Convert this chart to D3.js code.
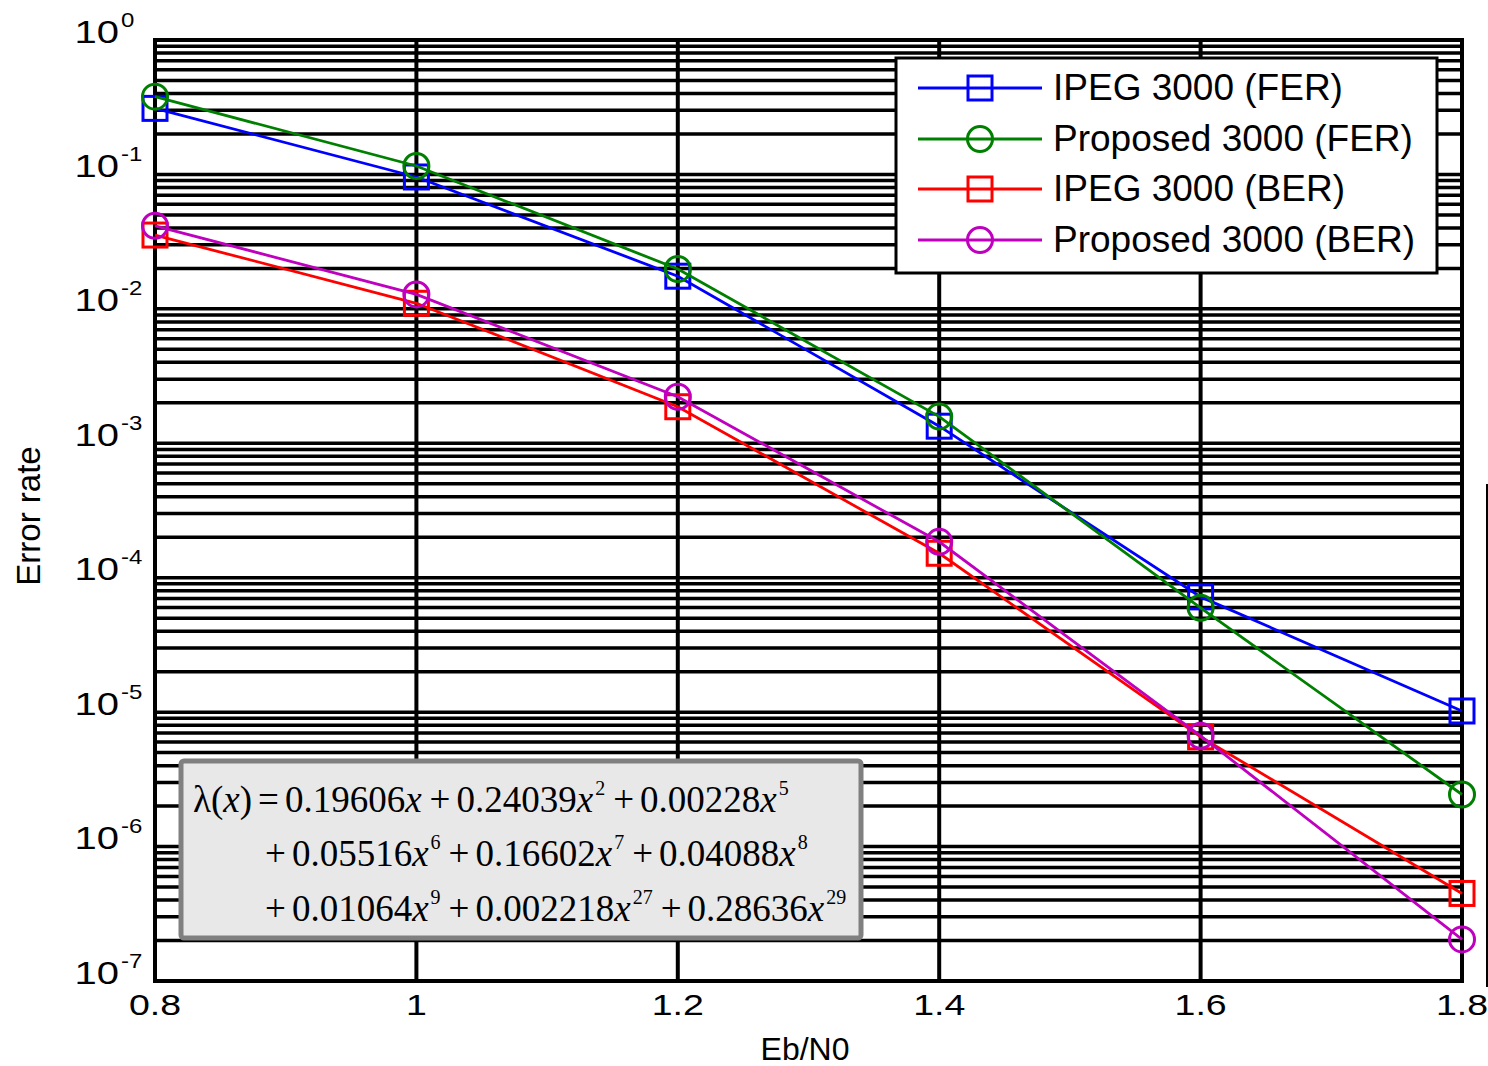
<!DOCTYPE html>
<html>
<head>
<meta charset="utf-8">
<script src="https://cdn.jsdelivr.net/npm/d3@7"></script>
<style>
  body { margin: 0; background: #fff; }
  svg { display: block; }
</style>
</head>
<body>
<div id="chart"></div>
<script>
// data
const ebn0 = [0.8, 1.0, 1.2, 1.4, 1.6, 1.8];
const ipegFer = [0.310, 0.0957, 0.0175, 1.34e-3, 7.2e-5, 1.02e-5];
const proposedFer = [0.379, 0.1155, 0.0198, 1.58e-3, 5.97e-5, 2.44e-6];
const ipegBer = [0.0354, 0.0110, 1.87e-3, 1.52e-4, 6.55e-6, 4.48e-7];
const proposedBer = [0.0415, 0.0128, 2.22e-3, 1.85e-4, 6.67e-6, 2.04e-7];
const seriesNames = ["IPEG 3000 (FER)", "Proposed 3000 (FER)", "IPEG 3000 (BER)", "Proposed 3000 (BER)"];
const seriesColors = ["#0000ff", "#008000", "#ff0000", "#bf00bf"];
const seriesMarkers = ["square", "circle", "square", "circle"];
const xTicks = [0.8, 1.0, 1.2, 1.4, 1.6, 1.8];
const xTickLabels = ["0.8", "1", "1.2", "1.4", "1.6", "1.8"];
const yTickExps = [0, -1, -2, -3, -4, -5, -6, -7];
const eqLine1 = [["0.19606", ""], ["0.24039", "2"], ["0.00228", "5"]];
const eqLine2 = [["0.05516", "6"], ["0.16602", "7"], ["0.04088", "8"]];
const eqLine3 = [["0.01064", "9"], ["0.002218", "27"], ["0.28636", "29"]];

const W = 1488, H = 1066;
const plotLeft = 155, plotRight = 1462, plotTop = 40, plotBottom = 981;

const svg = d3.select("#chart").append("svg")
    .attr("width", W)
    .attr("height", H);

const x = d3.scaleLinear().domain([0.8, 1.8]).range([plotLeft, plotRight]);
const y = d3.scaleLog().domain([1e-7, 1]).range([plotBottom, plotTop]);

// grid: every minor log step, black and heavy like the original
const gridY = [];
for (let e = -7; e < 0; e++) {
    for (let k = 1; k <= 9; k++) gridY.push(k * Math.pow(10, e));
}
svg.append("g").selectAll("line")
    .data(gridY)
    .enter().append("line")
    .attr("x1", plotLeft).attr("x2", plotRight)
    .attr("y1", d => y(d)).attr("y2", d => y(d))
    .attr("stroke", "#000")
    .attr("stroke-width", 3.5);

svg.append("g").selectAll("line")
    .data(xTicks.slice(1, -1))
    .enter().append("line")
    .attr("x1", d => x(d)).attr("x2", d => x(d))
    .attr("y1", plotTop).attr("y2", plotBottom)
    .attr("stroke", "#000")
    .attr("stroke-width", 4);

svg.append("rect")
    .attr("x", plotLeft).attr("y", plotTop)
    .attr("width", plotRight - plotLeft).attr("height", plotBottom - plotTop)
    .attr("fill", "none")
    .attr("stroke", "#000")
    .attr("stroke-width", 4);

// stray line at the right edge of the original picture
svg.append("line")
    .attr("x1", 1487).attr("x2", 1487)
    .attr("y1", 484).attr("y2", 987)
    .attr("stroke", "#000").attr("stroke-width", 2);

// tick labels (glyphs look horizontally stretched in the original)
const xLab = svg.append("g");
xTicks.forEach((t, i) => {
    xLab.append("text")
        .attr("transform", "translate(" + x(t) + ",1015) scale(1.25,1)")
        .attr("text-anchor", "middle")
        .attr("font-family", "Liberation Sans, Arial, sans-serif")
        .attr("font-size", 30)
        .text(xTickLabels[i]);
});

const yLab = svg.append("g");
yTickExps.forEach(e => {
    const yy = y(Math.pow(10, e)) + 2.5;
    yLab.append("text")
        .attr("transform", "translate(119," + yy + ") scale(1.25,1)")
        .attr("text-anchor", "end")
        .attr("font-family", "Liberation Sans, Arial, sans-serif")
        .attr("font-size", 32)
        .text("10");
    yLab.append("text")
        .attr("transform", "translate(121," + (yy - 16) + ") scale(1.2,1)")
        .attr("text-anchor", "start")
        .attr("font-family", "Liberation Sans, Arial, sans-serif")
        .attr("font-size", 20)
        .text(e === 0 ? "0" : "-" + Math.abs(e));
});

svg.append("text")
    .attr("x", 805).attr("y", 1060)
    .attr("text-anchor", "middle")
    .attr("font-family", "Liberation Sans, Arial, sans-serif")
    .attr("font-size", 32)
    .text("Eb/N0");

svg.append("text")
    .attr("transform", "translate(40,516) rotate(-90)")
    .attr("text-anchor", "middle")
    .attr("font-family", "Liberation Sans, Arial, sans-serif")
    .attr("font-size", 33)
    .text("Error rate");

// series
const allSeries = [ipegFer, proposedFer, ipegBer, proposedBer];
const line = d3.line()
    .x((d, i) => x(ebn0[i]))
    .y(d => y(d));

function drawMarker(g, type, cx, cy, color) {
    if (type === "square") {
        g.append("rect")
            .attr("x", cx - 12).attr("y", cy - 12)
            .attr("width", 24).attr("height", 24)
            .attr("fill", "none")
            .attr("stroke", color).attr("stroke-width", 3);
    } else {
        g.append("circle")
            .attr("cx", cx).attr("cy", cy).attr("r", 12.5)
            .attr("fill", "none")
            .attr("stroke", color).attr("stroke-width", 3);
    }
}

allSeries.forEach((vals, s) => {
    const g = svg.append("g");
    g.append("path")
        .datum(vals)
        .attr("d", line)
        .attr("fill", "none")
        .attr("stroke", seriesColors[s])
        .attr("stroke-width", 2.8);
    vals.forEach((v, i) => drawMarker(g, seriesMarkers[s], x(ebn0[i]), y(v), seriesColors[s]));
});

// legend
const legend = svg.append("g");
legend.append("rect")
    .attr("x", 896).attr("y", 58)
    .attr("width", 541).attr("height", 215)
    .attr("fill", "#fff")
    .attr("stroke", "#000").attr("stroke-width", 3);

const legendRows = [88, 139, 189, 240];
seriesNames.forEach((name, i) => {
    const ly = legendRows[i];
    legend.append("line")
        .attr("x1", 918).attr("x2", 1042)
        .attr("y1", ly).attr("y2", ly)
        .attr("stroke", seriesColors[i]).attr("stroke-width", 3);
    drawMarker(legend, seriesMarkers[i], 980, ly, seriesColors[i]);
    legend.append("text")
        .attr("x", 1053).attr("y", ly + 12)
        .attr("font-family", "Liberation Sans, Arial, sans-serif")
        .attr("font-size", 37)
        .text(name);
});

// equation box
const eq = svg.append("g");
eq.append("rect")
    .attr("x", 181).attr("y", 761)
    .attr("width", 680).attr("height", 177)
    .attr("rx", 3)
    .attr("fill", "#e8e8e8")
    .attr("stroke", "#808080").attr("stroke-width", 5);

function eqLine(terms, x0, baseline, lead) {
    const t = eq.append("text")
        .attr("x", x0).attr("y", baseline)
        .attr("font-family", "Liberation Serif, Times New Roman, serif")
        .attr("font-size", 37)
        .attr("fill", "#000");
    let back = 0; // pending drop back to the baseline after a superscript
    function part(str, opts) {
        const s = t.append("tspan").text(str);
        if (back) { s.attr("dy", back); back = 0; }
        if (opts && opts.italic) s.attr("font-style", "italic");
        if (opts && opts.dx) s.attr("dx", opts.dx);
        return s;
    }
    if (lead) {
        part("\u03bb(");
        part("x", { italic: true });
        part(")");
        part("=", { dx: 6 });
    }
    terms.forEach((term, i) => {
        if (lead && i === 0) {
            part(term[0], { dx: 6 });
        } else {
            part("+", { dx: i === 0 ? 0 : 8 });
            part(term[0], { dx: 6 });
        }
        part("x", { italic: true });
        if (term[1]) {
            t.append("tspan")
                .attr("font-size", 20)
                .attr("dy", -17)
                .attr("dx", 2)
                .text(term[1]);
            back = 17;
        }
    });
}
eqLine(eqLine1, 193, 812, true);
eqLine(eqLine2, 265, 866, false);
eqLine(eqLine3, 265, 921, false);
</script>
</body>
</html>
